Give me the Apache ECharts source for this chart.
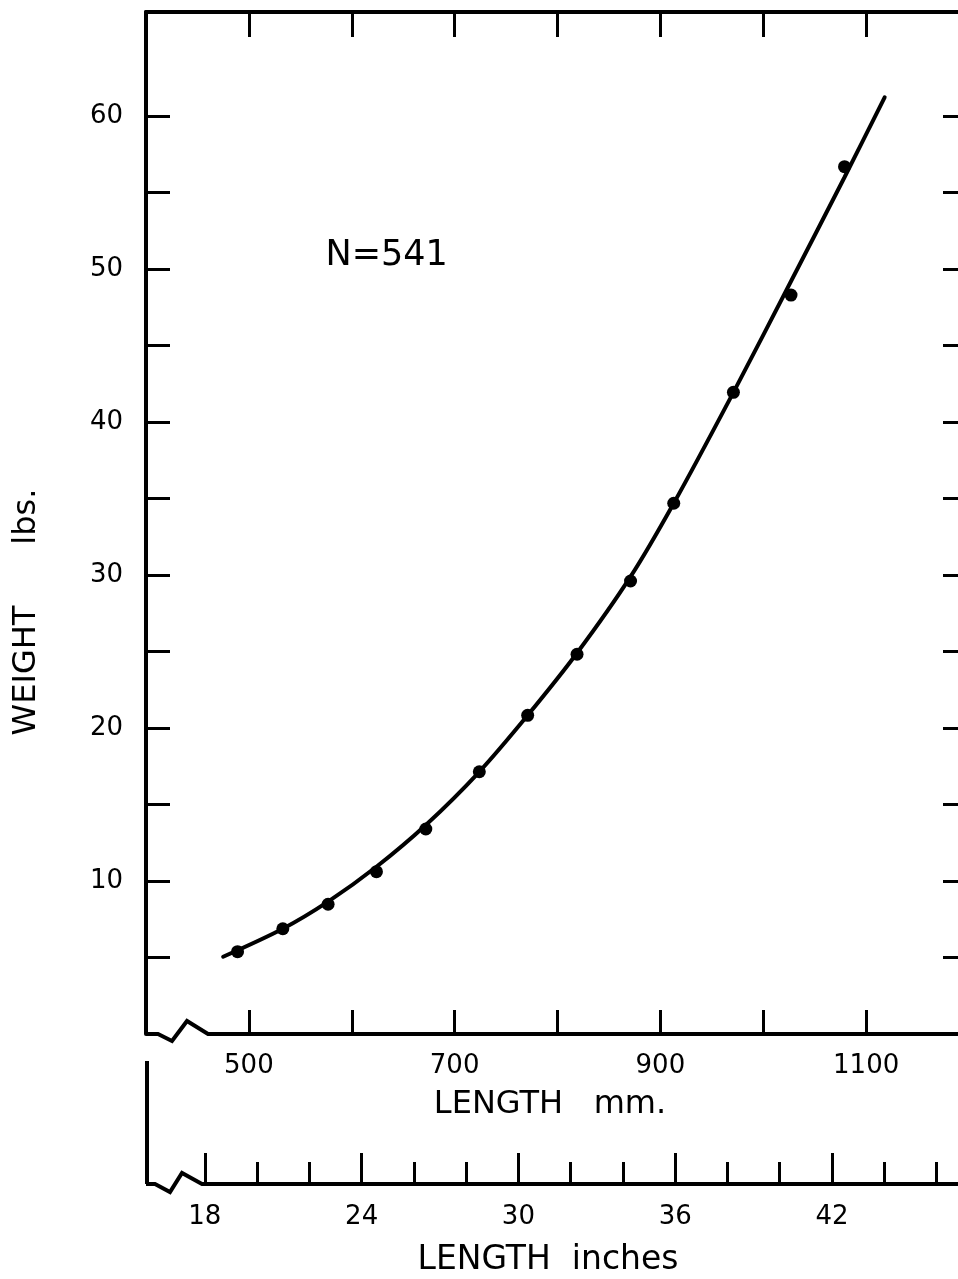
<!DOCTYPE html>
<html><head><meta charset="utf-8">
<script src="https://cdn.jsdelivr.net/npm/echarts@6/dist/echarts.min.js"></script>
<style>html,body{margin:0;padding:0;background:#fff;}#c{width:958px;height:1279px;}</style>
</head><body><div id="c"></div>
<script>
// ---- data ----
const curveLength = [475, 533, 577, 624, 672, 724, 771, 819, 871, 913, 971, 1027, 1079, 1118];
const curveWeight = [5.05, 6.88, 8.65, 10.93, 13.66, 17.14, 20.83, 24.9, 29.89, 34.69, 41.94, 49.2, 56.0, 61.22];
const obsLength = [489, 533, 577, 624, 672, 724, 771, 819, 871, 913, 971, 1027, 1079];
const obsWeight = [5.38, 6.88, 8.48, 10.61, 13.40, 17.14, 20.83, 24.82, 29.61, 34.69, 41.94, 48.30, 56.69];
const mmLabels = [500, 700, 900, 1100];
const weightTicks = [5, 10, 15, 20, 25, 30, 35, 40, 45, 50, 55, 60];
const weightLabels = [10, 20, 30, 40, 50, 60];
const inchMajorTicks = [18, 24, 30, 36, 42];
const inchMinorTicks = [18, 20, 22, 24, 26, 28, 30, 32, 34, 36, 38, 40, 42, 44, 46];
const inchLabels = [18, 24, 30, 36, 42];
const annotationText = 'N=541';
const annotationAt = [634, 50.85];
const xTitle = 'LENGTH   mm.';
const x2Title = 'LENGTH  inches';
const yTitle = 'WEIGHT      lbs.';

// ---- chart ----
const FONT = '"DejaVu Sans", sans-serif';
const INK = '#000';
const chart = echarts.init(document.getElementById('c'), null, {renderer: 'canvas'});
const lbl = (size) => ({fontSize: size, fontFamily: FONT, color: INK});
const noZero = (extra) => Object.assign({show: true, onZero: false, lineStyle: {width: 4, color: INK}}, extra || {});

chart.setOption({
  animation: false,
  backgroundColor: '#fff',
  grid: [
    {left: 146, top: 12, width: 823, height: 1022, containLabel: false, outerBoundsMode: 'none'},
    {left: 146, top: 1150, width: 823, height: 34, containLabel: false, outerBoundsMode: 'none'}
  ],
  xAxis: [
    {gridIndex: 0, type: 'value', position: 'bottom', min: 400, max: 1200, interval: 100,
     axisLine: noZero({show: false}),
     axisTick: {show: true, inside: true, length: 24, lineStyle: {width: 3, color: INK}},
     axisLabel: Object.assign(lbl(26), {margin: 19, formatter: v => mmLabels.includes(v) ? String(v) : ''}),
     splitLine: {show: false}},
    {gridIndex: 0, type: 'value', position: 'top', min: 400, max: 1200, interval: 100,
     axisLine: noZero(),
     axisTick: {show: true, inside: true, length: 25, lineStyle: {width: 3, color: INK}},
     axisLabel: {show: false}, splitLine: {show: false}},
    {gridIndex: 1, type: 'value', position: 'bottom', min: 400 / 25.4, max: 1200 / 25.4,
     axisLine: noZero({show: false}),
     axisTick: {show: true, inside: true, length: 31, customValues: inchMajorTicks, lineStyle: {width: 3, color: INK}},
     axisLabel: Object.assign(lbl(26), {margin: 20, customValues: inchLabels}),
     splitLine: {show: false}},
    {gridIndex: 1, type: 'value', position: 'bottom', min: 400 / 25.4, max: 1200 / 25.4,
     axisLine: noZero({show: false}),
     axisTick: {show: true, inside: true, length: 22, customValues: inchMinorTicks, lineStyle: {width: 3, color: INK}},
     axisLabel: {show: false}, splitLine: {show: false}}
  ],
  yAxis: [
    {gridIndex: 0, type: 'value', position: 'left', min: 0, max: 66.8,
     axisLine: noZero(),
     axisTick: {show: true, inside: true, length: 24, customValues: weightTicks, lineStyle: {width: 3, color: INK}},
     axisLabel: Object.assign(lbl(26), {margin: 23, customValues: weightLabels}),
     splitLine: {show: false}},
    {gridIndex: 0, type: 'value', position: 'right', min: 0, max: 66.8,
     axisLine: noZero(),
     axisTick: {show: true, inside: true, length: 26, customValues: weightTicks, lineStyle: {width: 3, color: INK}},
     axisLabel: {show: false}, splitLine: {show: false}},
    {gridIndex: 1, type: 'value', show: false, min: 0, max: 1}
  ],
  series: [
    {type: 'line', xAxisIndex: 0, yAxisIndex: 0, smooth: 0.3, symbol: 'none', silent: true, z: 3,
     lineStyle: {width: 4, color: INK, cap: 'round', opacity: 1},
     data: curveLength.map((x, i) => [x, curveWeight[i]])},
    {type: 'scatter', xAxisIndex: 0, yAxisIndex: 0, symbol: 'circle', symbolSize: 13, z: 4,
     itemStyle: {color: INK, opacity: 1},
     data: obsLength.map((x, i) => [x, obsWeight[i]])}
  ]
});

// ---- decorations: broken axis lines, bracket, titles ----
const xL = chart.convertToPixel({xAxisIndex: 0}, 400);
const xR = chart.convertToPixel({xAxisIndex: 0}, 1200);
const y0 = chart.convertToPixel({yAxisIndex: 0}, 0);
const yIn = chart.convertToPixel({yAxisIndex: 2}, 0);
const mmBreak = [[0, 0], [12, 0], [26, 7], [41, -13], [62, 0]];
const inBreak = [[0, 0], [9, 0], [24, 8], [36, -11], [56, 0]];
const brokenLine = (shape, yBase) => shape.map(p => [xL + p[0], yBase + p[1]]).concat([[xR, yBase]]);
const ann = chart.convertToPixel({xAxisIndex: 0, yAxisIndex: 0}, annotationAt);
const strokeStyle = {stroke: INK, lineWidth: 4, fill: null, lineJoin: 'miter'};

chart.setOption({
  graphic: [
    {type: 'polyline', silent: true, shape: {points: brokenLine(mmBreak, y0)}, style: strokeStyle},
    {type: 'polyline', silent: true, shape: {points: brokenLine(inBreak, yIn)}, style: strokeStyle},
    {type: 'line', silent: true, shape: {x1: xL + 1, y1: yIn - 123, x2: xL + 1, y2: yIn}, style: {stroke: INK, lineWidth: 4}},
    {type: 'text', silent: true, x: ann[0], y: ann[1],
     style: {text: annotationText, fontSize: 35, fontFamily: FONT, fill: INK, align: 'center', verticalAlign: 'middle'}},
    {type: 'text', silent: true, x: 550, y: 1105,
     style: {text: xTitle, fontSize: 32, fontFamily: FONT, fill: INK, align: 'center', verticalAlign: 'middle'}},
    {type: 'text', silent: true, x: 548, y: 1260,
     style: {text: x2Title, fontSize: 33, fontFamily: FONT, fill: INK, align: 'center', verticalAlign: 'middle'}},
    {type: 'text', silent: true, x: 27, y: 612, rotation: Math.PI / 2,
     style: {text: yTitle, fontSize: 32, fontFamily: FONT, fill: INK, align: 'center', verticalAlign: 'middle'}}
  ]
});
</script>
</body></html>
